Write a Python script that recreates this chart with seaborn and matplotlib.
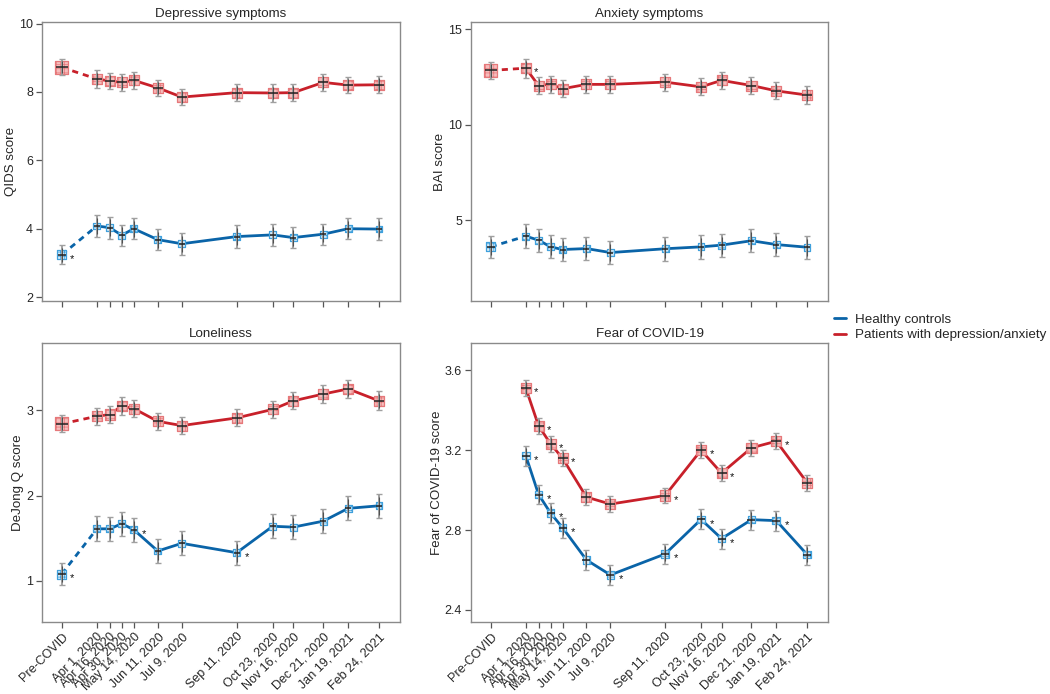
import numpy as np
import pandas as pd
import matplotlib
matplotlib.use("Agg")
import matplotlib.pyplot as plt
import seaborn as sns
from matplotlib.lines import Line2D

# ---------------- data ----------------
x_labels = ["Pre-COVID", "Apr 1, 2020", "Apr 16, 2020", "Apr 30, 2020", "May 14, 2020",
            "Jun 11, 2020", "Jul 9, 2020", "Sep 11, 2020", "Oct 23, 2020", "Nov 16, 2020",
            "Dec 21, 2020", "Jan 19, 2021", "Feb 24, 2021"]
# days relative to Apr 1, 2020 (Pre-COVID placed before the first wave)
x_days = [-41, 0, 15, 29, 43, 71, 99, 163, 205, 229, 264, 293, 329]

groups = ["Healthy controls", "Patients with depression/anxiety"]

dep_hc = [3.24, 4.08, 4.03, 3.81, 4.00, 3.68, 3.56, 3.77, 3.82, 3.74, 3.84, 4.00, 3.99]
dep_hc_err = [0.28, 0.33, 0.32, 0.31, 0.31, 0.31, 0.32, 0.33, 0.32, 0.31, 0.31, 0.31, 0.32]
dep_pt = [8.72, 8.38, 8.32, 8.28, 8.34, 8.12, 7.85, 7.98, 7.97, 7.98, 8.28, 8.20, 8.21]
dep_pt_err = [0.23, 0.25, 0.24, 0.24, 0.24, 0.24, 0.24, 0.25, 0.25, 0.24, 0.24, 0.24, 0.25]
dep_hc_star = [1, 0, 0, 0, 0, 0, 0, 0, 0, 0, 0, 0, 0]
dep_pt_star = [0] * 13

anx_hc = [3.60, 4.16, 3.95, 3.60, 3.46, 3.51, 3.30, 3.50, 3.60, 3.69, 3.92, 3.72, 3.58]
anx_hc_err = [0.58, 0.63, 0.60, 0.60, 0.60, 0.60, 0.60, 0.62, 0.62, 0.60, 0.60, 0.60, 0.60]
anx_pt = [12.85, 12.97, 12.06, 12.13, 11.89, 12.12, 12.12, 12.24, 11.99, 12.33, 12.06, 11.78, 11.56]
anx_pt_err = [0.44, 0.49, 0.45, 0.45, 0.45, 0.45, 0.45, 0.45, 0.45, 0.45, 0.45, 0.45, 0.45]
anx_hc_star = [0] * 13
anx_pt_star = [0, 1, 0, 0, 0, 0, 0, 0, 0, 0, 0, 0, 0]

lon_hc = [1.08, 1.61, 1.61, 1.67, 1.60, 1.35, 1.44, 1.33, 1.64, 1.63, 1.70, 1.85, 1.88]
lon_hc_err = [0.125, 0.145, 0.14, 0.14, 0.14, 0.14, 0.14, 0.14, 0.14, 0.14, 0.14, 0.14, 0.14]
lon_pt = [2.84, 2.93, 2.95, 3.05, 3.02, 2.87, 2.82, 2.91, 3.01, 3.11, 3.19, 3.25, 3.11]
lon_pt_err = [0.10, 0.10, 0.10, 0.10, 0.10, 0.10, 0.10, 0.10, 0.10, 0.10, 0.10, 0.11, 0.11]
lon_hc_star = [1, 0, 0, 0, 1, 0, 0, 1, 0, 0, 0, 0, 0]
lon_pt_star = [0] * 13

fear_hc = [np.nan, 3.173, 2.978, 2.885, 2.812, 2.650, 2.575, 2.680, 2.853, 2.757, 2.852, 2.847, 2.677]
fear_hc_err = [np.nan, 0.05, 0.05, 0.05, 0.05, 0.05, 0.05, 0.05, 0.05, 0.05, 0.05, 0.05, 0.05]
fear_pt = [np.nan, 3.512, 3.322, 3.232, 3.160, 2.965, 2.930, 2.973, 3.200, 3.085, 3.212, 3.245, 3.038]
fear_pt_err = [np.nan, 0.04, 0.04, 0.04, 0.04, 0.04, 0.04, 0.04, 0.04, 0.04, 0.04, 0.04, 0.04]
fear_hc_star = [0, 1, 1, 1, 1, 0, 1, 1, 1, 1, 0, 1, 0]
fear_pt_star = [0, 1, 1, 1, 1, 0, 0, 1, 1, 1, 0, 1, 0]

titles = ["Depressive symptoms", "Anxiety symptoms", "Loneliness", "Fear of COVID-19"]
ylabels = ["QIDS score", "BAI score", "DeJong Q score", "Fear of COVID-19 score"]
yticks = [[2, 4, 6, 8, 10], [5, 10, 15], [1, 2, 3], [2.4, 2.8, 3.2, 3.6]]
yticklabels = [["2", "4", "6", "8", "10"], ["5", "10", "15"], ["1", "2", "3"],
               ["2.4", "2.8", "3.2", "3.6"]]
ylims = [(1.88, 10.04), (0.75, 15.38), (0.52, 3.79), (2.34, 3.738)]

# ---------------- style ----------------
sns.set_theme(style="white")
plt.rcParams["font.family"] = ["Liberation Sans", "DejaVu Sans"]
plt.rcParams["hatch.linewidth"] = 0.5

line_col = {groups[0]: "#0a64a8", groups[1]: "#c8202a"}
face_col = {groups[0]: "#d6ebf8", groups[1]: "#f6bcbc"}
edge_col = {groups[0]: "#3fa0dc", groups[1]: "#e6787a"}
msize = {groups[0]: (42, 24), groups[1]: (90, 52)}   # (pre-COVID, others)

fig = plt.figure(figsize=(10.5, 6.94), dpi=100)
positions = [
    [0.040, 0.566, 0.341, 0.402],
    [0.4486, 0.566, 0.340, 0.402],
    [0.040, 0.104, 0.341, 0.402],
    [0.4486, 0.104, 0.340, 0.402],
]

panel_data = [
    (dep_hc, dep_hc_err, dep_hc_star, dep_pt, dep_pt_err, dep_pt_star),
    (anx_hc, anx_hc_err, anx_hc_star, anx_pt, anx_pt_err, anx_pt_star),
    (lon_hc, lon_hc_err, lon_hc_star, lon_pt, lon_pt_err, lon_pt_star),
    (fear_hc, fear_hc_err, fear_hc_star, fear_pt, fear_pt_err, fear_pt_star),
]

for i, (pos, pdata) in enumerate(zip(positions, panel_data)):
    ax = fig.add_axes(pos)
    hc, hce, hcs, pt, pte, pts = pdata
    frames = []
    for g, v, e, s in [(groups[0], hc, hce, hcs), (groups[1], pt, pte, pts)]:
        frames.append(pd.DataFrame({"day": x_days, "score": v, "err": e,
                                    "star": s, "group": g, "idx": range(len(x_days))}))
    df = pd.concat(frames, ignore_index=True)

    for g in groups:
        sub = df[df.group == g].dropna(subset=["score"])
        c = line_col[g]
        pre = sub[sub.idx <= 1]
        post = sub[sub.idx >= 1]
        if len(pre) == 2:
            sns.lineplot(data=pre, x="day", y="score", color=c, lw=2.0,
                         linestyle=(0, (2.2, 1.8)), ax=ax, legend=False, zorder=2)
        sns.lineplot(data=post, x="day", y="score", color=c, lw=2.0, ax=ax,
                     legend=False, zorder=2)
        s_pre, s_post = msize[g]
        if i == 3:
            s_post = 52 if g == groups[1] else 30
        for part, ssz in [(sub[sub.idx == 0], s_pre), (sub[sub.idx >= 1], s_post)]:
            if len(part) == 0:
                continue
            ax.scatter(part.day, part.score, marker="s", s=ssz, facecolor=face_col[g],
                       edgecolor=edge_col[g], linewidth=0.9, hatch="++++", zorder=3)
            ax.scatter(part.day, part.score, marker="_", s=ssz * 0.85,
                       color="#222222", linewidth=1.1, zorder=5)
        ax.errorbar(sub.day, sub.score, yerr=sub.err, fmt="none", ecolor="#a0a0a0",
                    elinewidth=1.4, capsize=2.2, capthick=1.0, zorder=4)
        ax.errorbar(sub.day, sub.score, yerr=sub.err * 0.75, fmt="none", ecolor="#505050",
                    elinewidth=0.8, capsize=0, zorder=4)
        for _, r in sub[sub.star == 1].iterrows():
            ax.annotate("*", (r.day, r.score), xytext=(6, -3), textcoords="offset points",
                        ha="left", va="center", fontsize=8, color="#111111")

    ax.set_xlim(-64, 353.5)
    ax.set_ylim(*ylims[i])
    ax.set_yticks(yticks[i])
    ax.set_yticklabels(yticklabels[i])
    ax.set_xticks(x_days)
    if i >= 2:
        ax.set_xticklabels(x_labels, rotation=45, ha="right", rotation_mode="anchor")
    else:
        ax.set_xticklabels([])
    ax.set_xlabel("")
    ax.set_ylabel(ylabels[i], fontsize=9.6, labelpad=1.5)
    ax.set_title(titles[i], fontsize=9.6, pad=4)
    ax.tick_params(axis="both", which="major", direction="out", length=4.5, width=0.9,
                   color="#555555", labelsize=9, bottom=True, left=True, pad=2)
    for sp in ax.spines.values():
        sp.set_color("#8a8a8a")
        sp.set_linewidth(1.0)

handles = [Line2D([0], [0], color=line_col[g], lw=2) for g in groups]
fig.legend(handles, groups, loc="upper left", bbox_to_anchor=(0.783, 0.566),
           frameon=False, handlelength=0.9, handletextpad=0.7, fontsize=9.6,
           labelspacing=0.25)

fig.savefig("out.png", dpi=100)
